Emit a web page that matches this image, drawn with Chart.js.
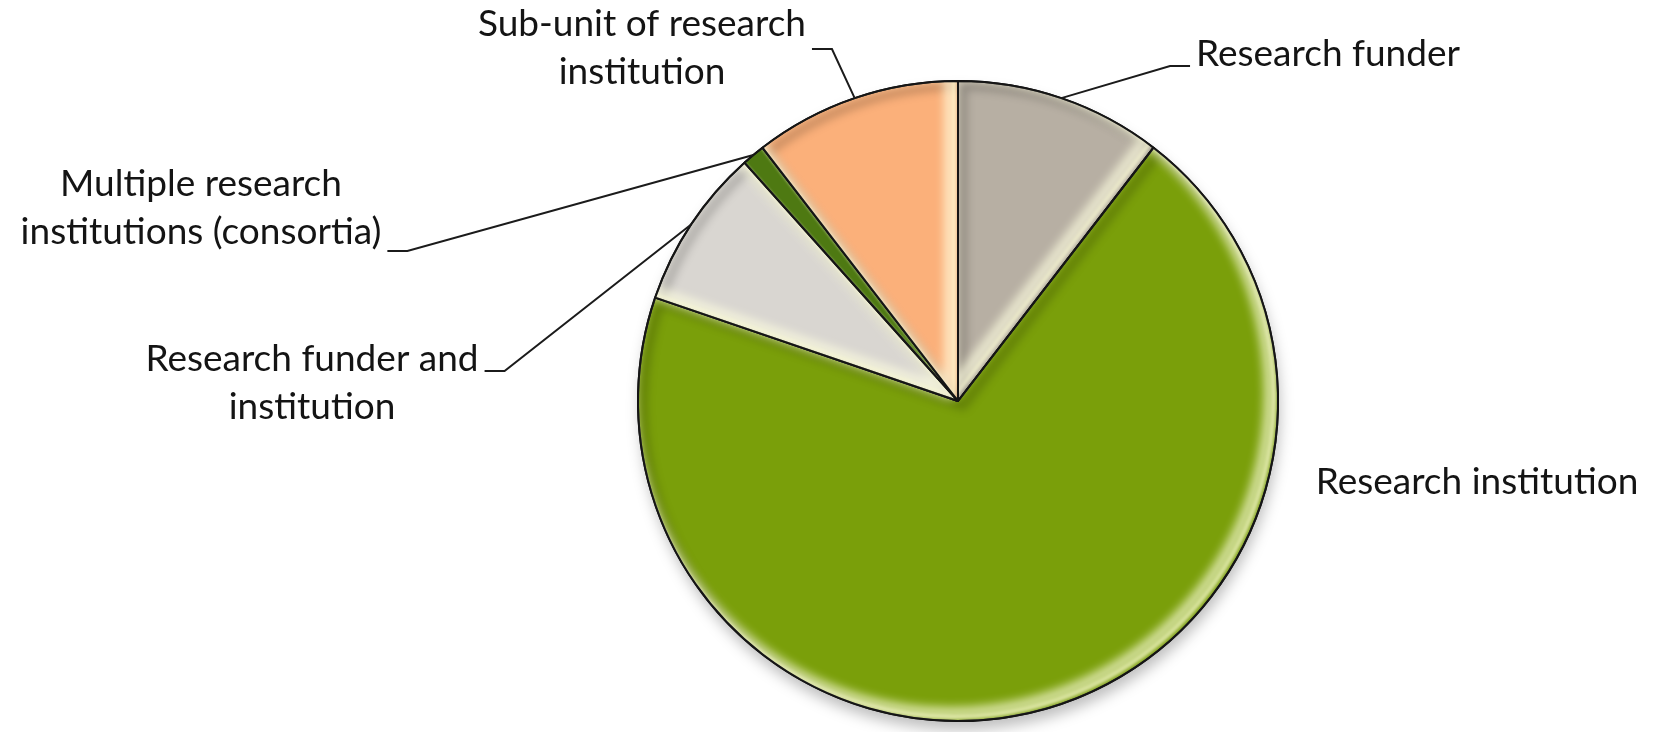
<!DOCTYPE html>
<html>
<head>
<meta charset="utf-8">
<script src="https://cdn.jsdelivr.net/npm/chart.js@4.4.1/dist/chart.umd.min.js"></script>
<style>
html, body { margin: 0; padding: 0; background: #fff; }
#wrap { width: 1661px; height: 732px; position: relative; }
</style>
</head>
<body>
<div id="wrap"><canvas id="chart"></canvas></div>
<script>
// data (counts, total 86)
const labels = ['Research funder', 'Research institution', 'Research funder and institution', 'Multiple research institutions (consortia)', 'Sub-unit of research institution'];
const counts = [9, 60, 7, 1, 9];
const colours = ['#b7afa3', '#7a9f0a', '#d9d6d1', '#4e7912', '#fbb07a'];
// label text broken into lines like the original
const labelLines = [
    ['Research funder'],
    ['Research institution'],
    ['Research funder and', 'institution'],
    ['Multiple research', 'institutions (consortia)'],
    ['Sub-unit of research', 'institution']
];
// where the text sits, and which line gets the leader line
const labelPos = [
    {x: 1328, y: 66, lead: {line: 0, side: 'l', dy: 0}},
    {x: 1477, y: 494, lead: null},
    {x: 312, y: 371, lead: {line: 0, side: 'r', dy: 0}},
    {x: 201, y: 196, lead: {line: 1, side: 'r', dy: 7}},
    {x: 642, y: 36, lead: {line: 0, side: 'r', dy: 13}}
];
const fontSize = 37;
const lineGap = 48;

const slicePath = (p) => {
    const path = new Path2D();
    path.moveTo(p.x, p.y);
    path.arc(p.x, p.y, p.outerRadius, p.startAngle, p.endAngle);
    path.closePath();
    return path;
}

// soft edge light/shade inside a slice: blurred stroke of the outline, shifted
const edge = (ctx, path, colour, width, blur, dx, dy) => {
    ctx.save();
    ctx.filter = 'blur(' + blur + 'px)';
    ctx.translate(dx, dy);
    ctx.strokeStyle = colour;
    ctx.lineWidth = width;
    ctx.lineJoin = 'round';
    ctx.stroke(path);
    ctx.restore();
}

const bevel = {
    id: 'bevel',
    beforeDatasetsDraw(chart) {
        const ctx = chart.ctx;
        const p = chart.getDatasetMeta(0).data[0].getProps(['x', 'y', 'outerRadius'], true);
        ctx.save();
        ctx.filter = 'blur(7px)';
        ctx.fillStyle = 'rgba(0,0,0,0.25)';
        ctx.beginPath();
        ctx.arc(p.x + 2, p.y + 9, p.outerRadius, 0, Math.PI * 2);
        ctx.fill();
        ctx.restore();
    },
    afterDatasetsDraw(chart) {
        const ctx = chart.ctx;
        chart.getDatasetMeta(0).data.forEach((arc) => {
            const p = arc.getProps(['x', 'y', 'startAngle', 'endAngle', 'outerRadius'], true);
            const path = slicePath(p);
            const thin = (p.endAngle - p.startAngle) < 0.2;
            ctx.save();
            ctx.clip(path);
            // dark shade on upper/left edges, light on lower/right edges
            if (thin) {
                edge(ctx, path, 'rgba(255,255,220,0.35)', 3, 1, -2, -2);
            } else {
                edge(ctx, path, 'rgba(0,0,0,0.2)', 8, 4, 5, 5);
                edge(ctx, path, 'rgba(255,255,225,0.7)', 12, 5, -8, -8);
                edge(ctx, path, 'rgba(255,255,215,0.55)', 4, 1.5, -4, -4);
            }
            ctx.restore();
            ctx.save();
            ctx.strokeStyle = '#151515';
            ctx.lineWidth = 2;
            ctx.lineJoin = 'round';
            ctx.stroke(path);
            ctx.restore();
        });
    }
};

const callouts = {
    id: 'callouts',
    afterDraw(chart) {
        const ctx = chart.ctx;
        const meta = chart.getDatasetMeta(0);
        ctx.save();
        ctx.font = fontSize + 'px Lato';
        ctx.fillStyle = '#141414';
        ctx.textAlign = 'center';
        ctx.textBaseline = 'alphabetic';
        labelLines.forEach((lines, i) => {
            const pos = labelPos[i];
            lines.forEach((t, k) => ctx.fillText(t, pos.x, pos.y + k * lineGap));
            if (!pos.lead) return;
            const p = meta.data[i].getProps(['x', 'y', 'startAngle', 'endAngle', 'outerRadius'], true);
            const mid = (p.startAngle + p.endAngle) / 2;
            const rx = p.x + Math.cos(mid) * p.outerRadius;
            const ry = p.y + Math.sin(mid) * p.outerRadius;
            const w = ctx.measureText(lines[pos.lead.line]).width;
            const ly = pos.y + pos.lead.line * lineGap + pos.lead.dy;
            const x0 = pos.lead.side == 'r' ? pos.x + w / 2 + 6 : pos.x - w / 2 - 6;
            const x1 = pos.lead.side == 'r' ? x0 + 20 : x0 - 20;
            ctx.strokeStyle = '#1b1b1b';
            ctx.lineWidth = 2;
            ctx.beginPath();
            ctx.moveTo(x0, ly);
            ctx.lineTo(x1, ly);
            ctx.lineTo(rx, ry);
            ctx.stroke();
        });
        ctx.restore();
    }
};

new Chart(document.querySelector('#chart'), {
    type: 'pie',
    data: {
        labels: labels,
        datasets: [{
            data: counts,
            backgroundColor: colours,
            borderColor: '#151515',
            borderWidth: 2,
            hoverOffset: 0
        }]
    },
    options: {
        responsive: true,
        maintainAspectRatio: false,
        animation: false,
        layout: {padding: {top: 80, bottom: 10, left: 637, right: 382}},
        plugins: {
            legend: {display: false},
            tooltip: {enabled: false}
        }
    },
    plugins: [bevel, callouts]
});
</script>
</body>
</html>
